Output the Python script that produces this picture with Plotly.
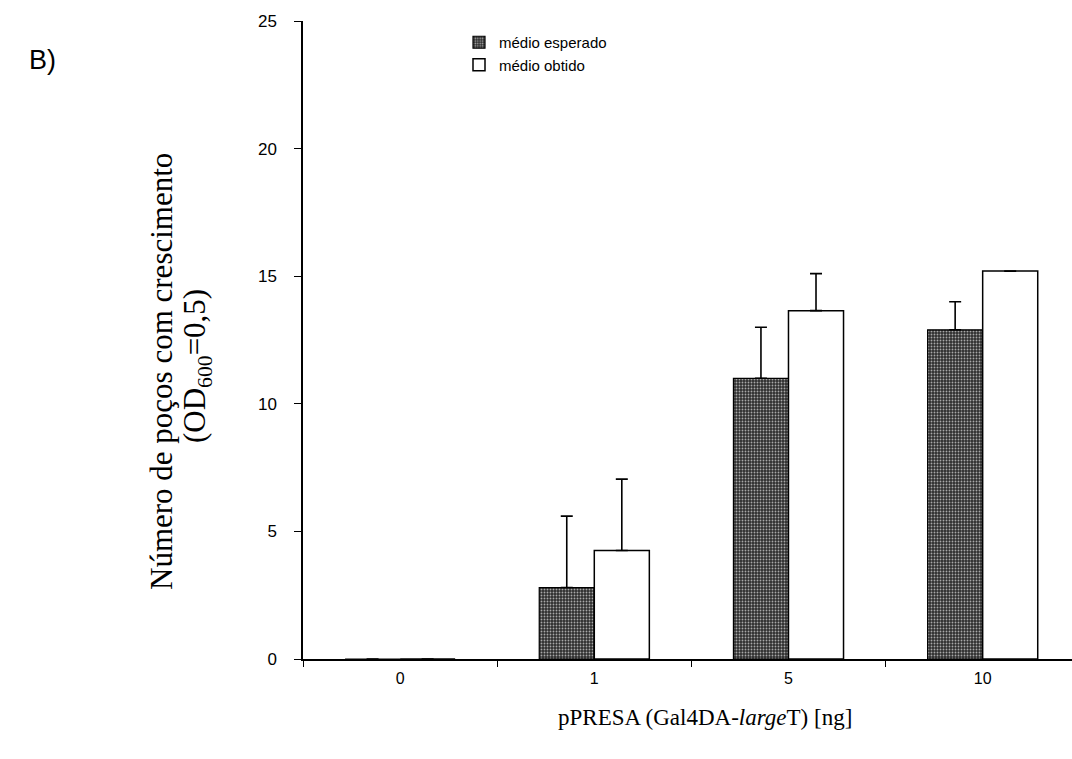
import plotly.graph_objects as go

# pPRESA dose (ng) on the x axis
doses = ["0", "1", "5", "10"]

# mean number of wells with growth (OD600 = 0.5); None = no error bar
expected_mean = [0, 2.8, 11.0, 12.9]
expected_err = [None, 2.8, 2.0, 1.1]
obtained_mean = [0, 4.25, 13.65, 15.2]
obtained_err = [None, 2.8, 1.45, None]

y_ticks = [0, 5, 10, 15, 20, 25]

W, H = 1072, 759
ML, MR, MT, MB = 303, 0, 21, 100
PW, PH = W - ML - MR, H - MT - MB


def px_x(px):
    return (px - ML) / PW


def px_y(py):
    return (H - MB - py) / PH


sans = "Liberation Sans, Arial, sans-serif"
serif = "Liberation Serif, Times New Roman, serif"

fig = go.Figure()
fig.add_trace(go.Bar(
    name="médio esperado",
    x=doses, y=expected_mean,
    marker=dict(
        color="#444444",
        line=dict(color="black", width=1.2),
        pattern=dict(shape=".", fgcolor="#a8a8a8", bgcolor="#2f2f2f",
                     size=3, solidity=0.3, fillmode="replace"),
    ),
    error_y=dict(type="data", symmetric=False, array=expected_err,
                 arrayminus=[0] * len(expected_err),
                 color="black", thickness=1.6, width=6),
))
fig.add_trace(go.Bar(
    name="médio obtido",
    x=doses, y=obtained_mean,
    marker=dict(color="white", line=dict(color="black", width=1.5)),
    error_y=dict(type="data", symmetric=False, array=obtained_err,
                 arrayminus=[0] * len(obtained_err),
                 color="black", thickness=1.6, width=6),
))

fig.update_layout(
    width=W, height=H,
    margin=dict(l=ML, r=MR, t=MT, b=MB, pad=0),
    paper_bgcolor="white", plot_bgcolor="white",
    barmode="group", bargap=0.433, bargroupgap=0,
    showlegend=True,
    legend=dict(
        x=px_x(459), y=px_y(26), xanchor="left", yanchor="top",
        font=dict(family=sans, size=15, color="black"),
        bgcolor="rgba(0,0,0,0)", tracegroupgap=0, itemwidth=30,
    ),
    font=dict(family=sans, color="black"),
)

fig.update_xaxes(
    type="category", range=[-0.5, 3.46],
    showline=True, linecolor="black", linewidth=1.5,
    ticks="outside", tickson="boundaries", ticklen=6, tickwidth=1.2,
    tickcolor="black", showgrid=False, zeroline=False,
    tickfont=dict(family=sans, size=16, color="black"),
    ticklabelstandoff=4,
)
fig.update_yaxes(
    range=[0, 25], tickvals=y_ticks,
    showline=True, linecolor="black", linewidth=1.5,
    ticks="outside", ticklen=7, tickwidth=1.2, tickcolor="black",
    showgrid=False, zeroline=False,
    tickfont=dict(family=sans, size=17, color="black"),
    ticklabelstandoff=14,
)

# y-axis title, drawn as two rotated lines
fig.add_annotation(
    text="Número de poços com crescimento",
    xref="paper", yref="paper", x=px_x(161), y=px_y(372),
    xanchor="center", yanchor="middle",
    textangle=-90, showarrow=False,
    font=dict(family=serif, size=31, color="black"),
)
fig.add_annotation(
    text="(OD<sub>600</sub>=0,5)",
    xref="paper", yref="paper", x=px_x(197), y=px_y(366),
    xanchor="center", yanchor="middle",
    textangle=-90, showarrow=False,
    font=dict(family=serif, size=31, color="black"),
)
fig.add_annotation(
    text="pPRESA (Gal4DA-<i>large</i>T) [ng]",
    xref="paper", yref="paper", x=px_x(705), y=px_y(717),
    xanchor="center", yanchor="middle",
    showarrow=False, font=dict(family=serif, size=23, color="black"),
)
fig.add_annotation(
    text="B)",
    xref="paper", yref="paper", x=px_x(42), y=px_y(60),
    xanchor="center", yanchor="middle",
    showarrow=False, font=dict(family=sans, size=27, color="black"),
)

fig.write_html("out.html")
